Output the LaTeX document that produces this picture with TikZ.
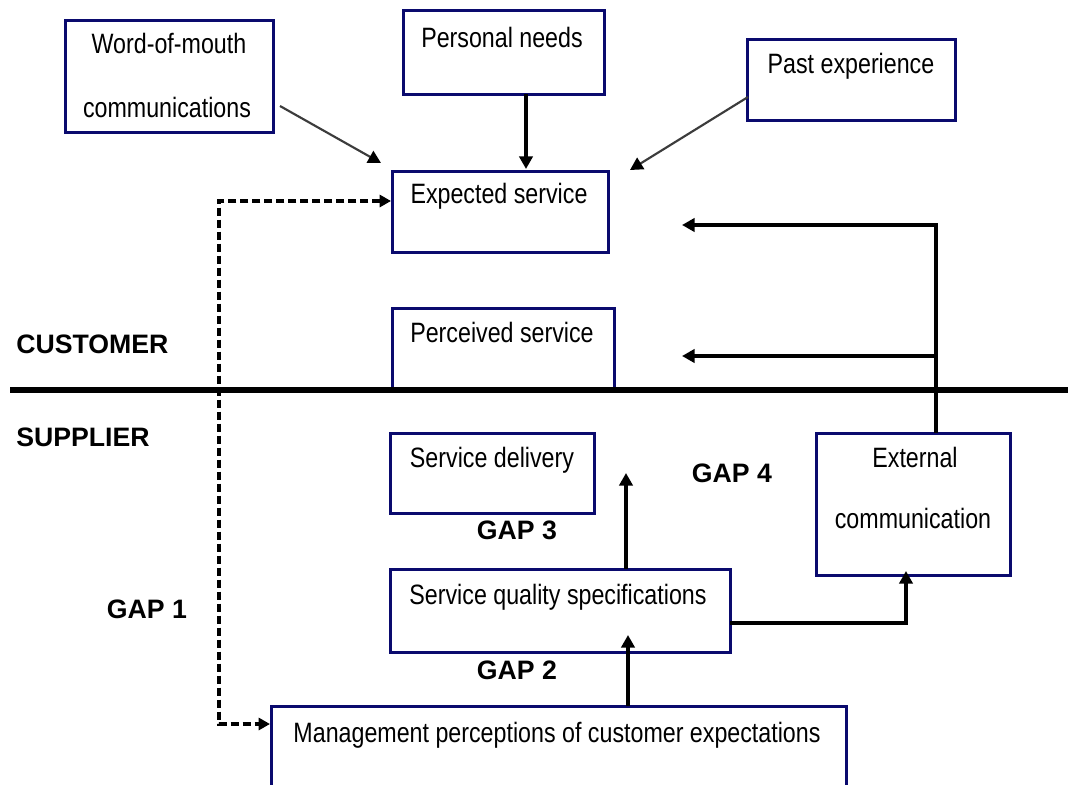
\documentclass[tikz,border=0pt]{standalone}
\usepackage{fontspec}
\setmainfont{Liberation Sans}
\newfontfamily\boxfont[FakeStretch=0.83]{Liberation Sans}
\usetikzlibrary{arrows.meta,fit}

\definecolor{boxline}{RGB}{10,10,110}
\definecolor{greyline}{RGB}{60,60,60}

\begin{document}
\begin{tikzpicture}[x=0.75pt,y=-0.75pt,
  box/.style={draw=boxline, line width=2.25pt, inner sep=0pt},
  boxtext/.style={font=\boxfont\fontsize{21}{24}\selectfont, inner sep=0pt, anchor=base},
  gaptext/.style={font=\bfseries\fontsize{20}{24}\selectfont, inner sep=0pt, anchor=base},
  conn/.style={line width=2.4pt, -{Triangle[length=9.5pt,width=10pt]}},
  softconn/.style={line width=1.6pt, draw=greyline, -{Triangle[length=9.5pt,width=10pt,color=black]}},
  dashconn/.style={line width=2.3pt, dash pattern=on 6pt off 3pt,
    {Triangle[length=8.5pt,width=9pt]}-{Triangle[length=8.5pt,width=9pt]}},
  divider/.style={line width=4.5pt}
]
\clip (0,0) rectangle (1068,785);
\fill[white] (0,0) rectangle (1068,785);

% ---- customer side boxes
\node[box, fit={(65,20) (273,132)}] (wom) {};
\node[box, fit={(403,10) (604,94)}] (pn) {};
\node[box, fit={(747,39) (955,120)}] (past) {};
\node[box, fit={(392,171) (608,252)}] (exp) {};
\node[box, fit={(392,308) (614,390)}] (perc) {};

% ---- supplier side boxes
\node[box, fit={(390,433) (594,513)}] (deliv) {};
\node[box, fit={(816,433) (1010,575)}] (ext) {};
\node[box, fit={(390,569) (730,652)}] (spec) {};
\node[box, fit={(271,706) (846,800)}] (mgmt) {};

% ---- box texts
\node[boxtext] (womA) at (169,53) {Word-of-mouth};
\node[boxtext] (womB) at (167,117) {communications};
\node[boxtext] (pnT) at (502,47) {Personal needs};
\node[boxtext] (pastT) at (851,73) {Past experience};
\node[boxtext] (expT) at (499,203) {Expected service};
\node[boxtext] (percT) at (502,342) {Perceived service};
\node[boxtext] (delT) at (492,467) {Service delivery};
\node[boxtext] (extA) at (915,467) {External};
\node[boxtext] (extB) at (913,528) {communication};
\node[boxtext] (specT) at (558,604) {Service quality specifications};
\node[boxtext] (mgmtT) at (557,742) {Management perceptions of customer expectations};

% ---- side and gap labels
\node[gaptext, anchor=base west] (cust) at (16,353) {CUSTOMER};
\node[gaptext, anchor=base west] (supp) at (16,446) {SUPPLIER};
\node[gaptext] (gap1) at (147,618) {GAP 1};
\node[gaptext] (gap2) at (517,679) {GAP 2};
\node[gaptext] (gap3) at (517,539) {GAP 3};
\node[gaptext] (gap4) at (732,482) {GAP 4};

% ---- customer / supplier divide
\coordinate (divL) at (10,390);
\coordinate (divR) at (1068,390);
\draw[divider] (divL) -- (divR);

% ---- influences on the expected service
\coordinate (womS) at (280,106);
\coordinate (womE) at (381,163);
\draw[softconn] (womS) -- (womE);

\coordinate (pnS) at (526,94);
\coordinate (pnE) at (526,169);
\draw[conn] (pnS) -- (pnE);

\coordinate (pastS) at (748,97);
\coordinate (pastE) at (630,170);
\draw[softconn] (pastS) -- (pastE);

% ---- gap 1: expected service vs management perceptions
\coordinate (g1top) at (391,201);
\coordinate (g1a) at (219,201);
\coordinate (g1b) at (219,724);
\coordinate (g1bot) at (270,724);
\draw[dashconn] (g1top) -- (g1a) -- (g1b) -- (g1bot);

% ---- external communication feeds both customer boxes
\coordinate (extUp) at (936,433);
\coordinate (extC1) at (936,225);
\coordinate (extJ) at (936,356);
\coordinate (toExp) at (682,225);
\coordinate (toPerc) at (682,356);
\draw[conn] (extUp) -- (extC1) -- (toExp);
\draw[conn] (extJ) -- (toPerc);

% ---- supplier chain
\coordinate (specUp) at (626,569);
\coordinate (delE) at (626,473);
\draw[conn] (specUp) -- (delE);

\coordinate (mgmtUp) at (628,706);
\coordinate (specE) at (628,635);
\draw[conn] (mgmtUp) -- (specE);

\coordinate (specR) at (730,623);
\coordinate (specC) at (906,623);
\coordinate (extE) at (906,571);
\draw[conn] (specR) -- (specC) -- (extE);
\end{tikzpicture}
\end{document}
